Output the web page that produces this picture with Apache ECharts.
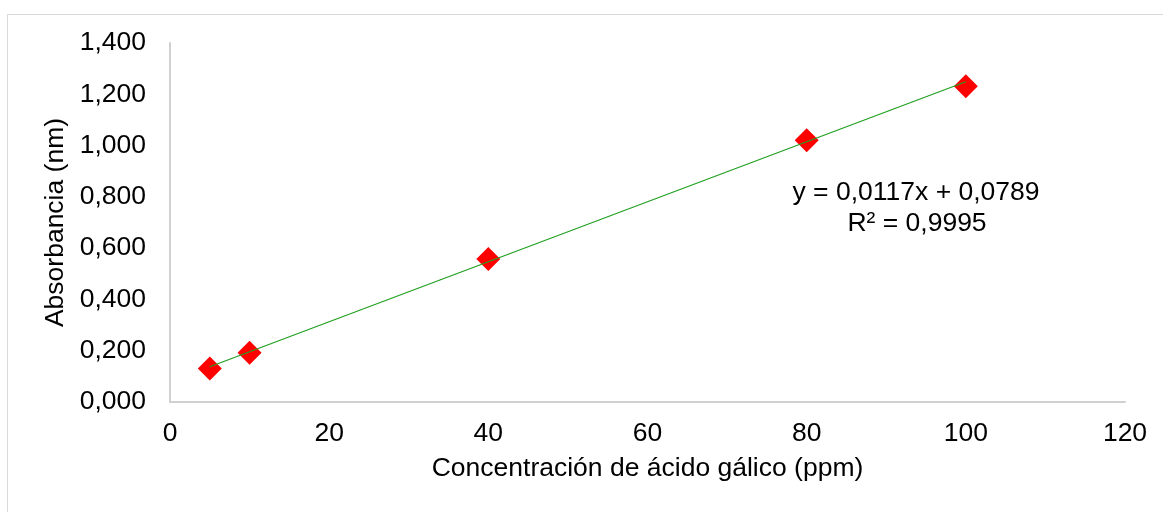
<!DOCTYPE html>
<html>
<head>
<meta charset="utf-8">
<script src="https://cdn.jsdelivr.net/npm/echarts@6/dist/echarts.min.js"></script>
<style>
  html, body { margin: 0; padding: 0; background: #fff; }
  #chart { width: 1163px; height: 512px; }
</style>
</head>
<body>
<div id="chart"></div>
<script>
// Calibration data: gallic acid concentration vs. absorbance
const concentracion = [5, 10, 40, 80, 100];
const absorbancia = [0.131, 0.192, 0.558, 1.021, 1.231];

// Linear fit reported on the chart
const pendiente = 0.0117;
const intercepto = 0.0789;
const r2 = 0.9995;

const xTicks = { min: 0, max: 120, interval: 20 };
const yTicks = { min: 0, max: 1.4, interval: 0.2 };

const FONT = "'Liberation Sans', Arial, sans-serif";
const FS = 26.5;
const coma = (v, d) => v.toFixed(d).replace('.', ',');

const puntos = concentracion.map((x, i) => [x, absorbancia[i]]);
const xMin = Math.min(...concentracion), xMax = Math.max(...concentracion);
const tendencia = [xMin, xMax].map(x => [x, pendiente * x + intercepto]);

const chart = echarts.init(document.getElementById('chart'), null, { renderer: 'canvas' });

const axisCommon = {
  axisLine: { show: true, lineStyle: { color: '#d0d0d0', width: 2 } },
  axisTick: { show: false },
  splitLine: { show: false },
  nameTextStyle: { color: '#000', fontFamily: FONT, fontSize: FS }
};

chart.setOption({
  animation: false,
  backgroundColor: '#fff',
  grid: { left: 170, top: 43, right: 38, bottom: 110, containLabel: false },
  xAxis: Object.assign({}, axisCommon, {
    type: 'value',
    min: xTicks.min, max: xTicks.max, interval: xTicks.interval,
    name: 'Concentración de ácido gálico (ppm)',
    nameLocation: 'middle', nameGap: 53,
    axisLabel: { color: '#000', fontFamily: FONT, fontSize: FS, margin: 18 }
  }),
  yAxis: Object.assign({}, axisCommon, {
    type: 'value',
    min: yTicks.min, max: yTicks.max, interval: yTicks.interval,
    name: 'Absorbancia (nm)',
    nameLocation: 'middle', nameGap: 100,
    axisLabel: {
      color: '#000', fontFamily: FONT, fontSize: FS, margin: 24,
      formatter: v => coma(v, 3)
    }
  }),
  series: [
    {
      type: 'scatter',
      data: puntos,
      symbol: 'diamond',
      symbolSize: 24,
      itemStyle: { color: '#ff0000', opacity: 1 },
      z: 2
    },
    {
      type: 'line',
      data: tendencia,
      symbol: 'none',
      lineStyle: { color: '#22a022', width: 1.3 },
      z: 3
    }
  ],
  graphic: [
    {
      type: 'rect',
      shape: { x: 7.5, y: 14.5, width: 1300, height: 700 },
      style: { fill: 'none', stroke: '#d9d9d9', lineWidth: 1 },
      silent: true, z: 0
    },
    {
      type: 'text',
      x: 916, y: 193,
      style: {
        text: 'y = ' + coma(pendiente, 4) + 'x + ' + coma(intercepto, 4),
        font: FS + 'px ' + FONT, fill: '#000',
        textAlign: 'center', textVerticalAlign: 'middle'
      }
    },
    {
      type: 'text',
      x: 917, y: 224,
      style: {
        text: 'R² = ' + coma(r2, 4),
        font: FS + 'px ' + FONT, fill: '#000',
        textAlign: 'center', textVerticalAlign: 'middle'
      }
    }
  ]
});
</script>
</body>
</html>
